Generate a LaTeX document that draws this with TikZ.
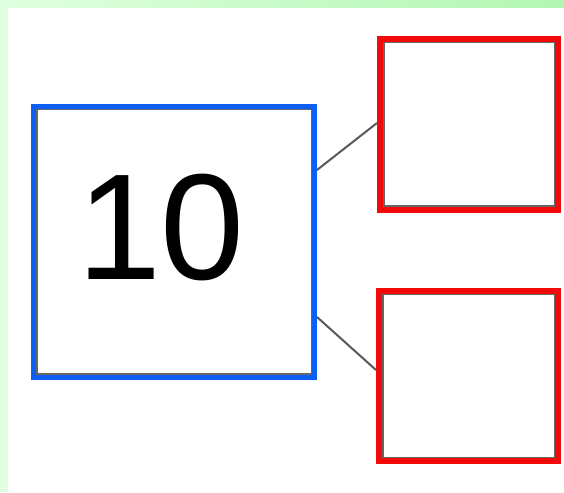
\documentclass[tikz,border=0pt]{standalone}
\usepackage{xcolor}
\usepackage{fontspec}
\setmainfont{Liberation Sans}
\usepackage{tikz}

\definecolor{tenblue}{HTML}{0D5EF2}
\definecolor{partred}{HTML}{F20A0A}
\definecolor{paleg}{HTML}{E0FFE0}
\definecolor{bandg}{HTML}{B2F6B2}

\begin{document}
\begin{tikzpicture}[x=1pt,y=1pt,
    whole/.style={draw=tenblue,line width=5pt,inner sep=0pt,minimum width=281pt,minimum height=271pt},
    part/.style={draw=partred,line width=6pt,inner sep=0pt,minimum width=178pt,minimum height=171pt},
    innerline/.style={draw=black!60,line width=1.8pt},
    link/.style={draw=black!65,line width=2pt}]
             \useasboundingbox (0,0) rectangle (564,492);
             \fill[white] (0,0) rectangle (564,492);
             \fill[paleg] (0,0) rectangle (8,492);
             \shade[left color=paleg,right color=bandg] (0,484) rectangle (564,492);

             \node[whole] (ten) at (174,250) {};
             \node[part] (top) at (469,367.5) {};
             \node[part,minimum width=179pt,minimum height=170pt] (bot) at (468.5,116) {};
             \node[font=\fontsize{151}{151}\selectfont,inner sep=0pt] (num) at (161,264) {10};

             % thin grey rim inside each frame
             \draw[innerline] ([shift={(5.6,-5.6)}]ten.north west) rectangle ([shift={(-5.6,5.6)}]ten.south east);
             \foreach \n in {top,bot}
               \draw[innerline] ([shift={(6.6,-6.6)}]\n.north west) rectangle ([shift={(-6.6,6.6)}]\n.south east);

             \draw[link] ([yshift=72pt]ten.east) -- ([yshift=1.5pt]top.west);
             \draw[link] ([yshift=-75pt]ten.east) -- ([yshift=6pt]bot.west);
             \end{tikzpicture}
\end{document}
